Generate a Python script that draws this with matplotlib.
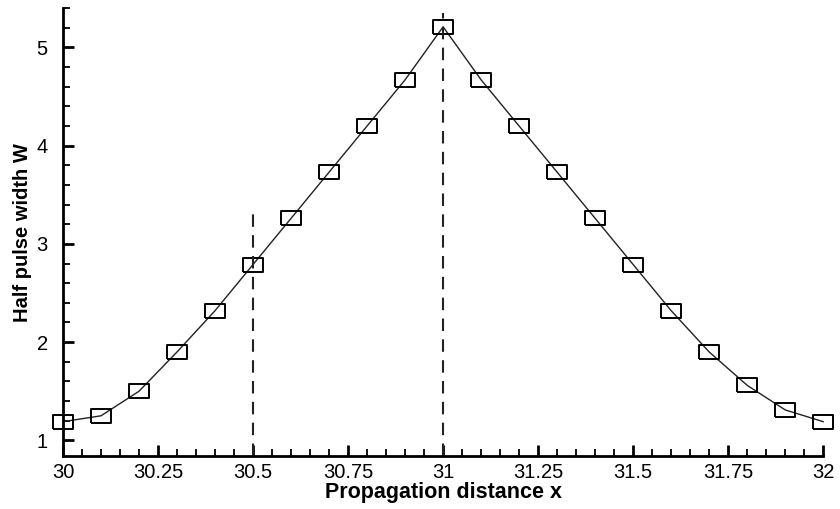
import numpy as np
import matplotlib
matplotlib.use("Agg")
import matplotlib.pyplot as plt
from matplotlib.ticker import MultipleLocator, FormatStrFormatter

plt.rcParams['font.family'] = ['Liberation Sans', 'DejaVu Sans']

# data
x = np.round(np.arange(30.0, 32.001, 0.1), 2)
w = [1.19, 1.25, 1.50, 1.90, 2.32, 2.79, 3.26, 3.73, 4.20, 4.67, 5.21,
     4.67, 4.20, 3.73, 3.26, 2.79, 2.32, 1.90, 1.56, 1.31, 1.19]

# dashed marker lines: x position and top end
x_dash = [30.5, 31.0]
y_dash_top = [3.3, 5.35]

rect = [(-1.5, -1), (1.5, -1), (1.5, 1), (-1.5, 1), (-1.5, -1)]

fig = plt.figure(figsize=(8.4, 5.09), dpi=100)
ax = fig.add_axes([0.075, 0.104, 0.905, 0.88])

ax.plot(x, w, color='#222222', lw=1.0, marker=rect, markersize=14.5,
        mfc='none', mec='black', mew=1.4, clip_on=False)

for xd, yt in zip(x_dash, y_dash_top):
    ax.plot([xd, xd], [0.84, yt], color='#222222', lw=1.5, ls=(0, (6, 4)))

ax.set_xlim(30, 32)
ax.set_ylim(0.84, 5.4)
ax.xaxis.set_major_locator(MultipleLocator(0.25))
ax.xaxis.set_minor_locator(MultipleLocator(0.05))
ax.yaxis.set_major_locator(MultipleLocator(1))
ax.yaxis.set_minor_locator(MultipleLocator(0.2))
ax.xaxis.set_major_formatter(FormatStrFormatter('%g'))

for s in ['top', 'right']:
    ax.spines[s].set_visible(False)
for s in ['left', 'bottom']:
    ax.spines[s].set_linewidth(2)

ax.tick_params(which='major', direction='in', length=8, width=2, labelsize=14.5)
ax.tick_params(axis='x', which='major', pad=5)
ax.tick_params(axis='y', which='major', pad=11)
ax.tick_params(which='minor', direction='in', length=5, width=1.3)

ax.set_xlabel('Propagation distance x', fontsize=15.5, fontweight='bold', labelpad=0)
ax.set_ylabel('Half pulse width W', fontsize=14.5, fontweight='bold', labelpad=3)

fig.savefig('out.png', dpi=100)
